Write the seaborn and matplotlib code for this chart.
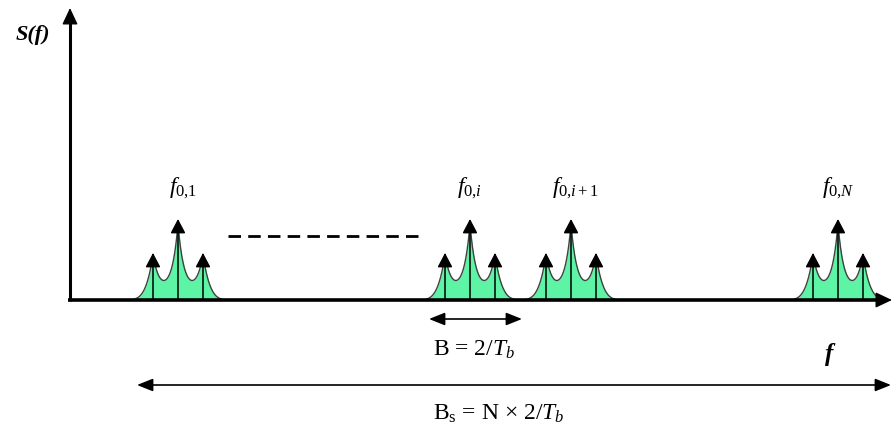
import numpy as np
import pandas as pd
import matplotlib
matplotlib.use("Agg")
import matplotlib.pyplot as plt
import seaborn as sns

sns.set_theme(style="white")
plt.rcParams['font.family'] = ['Liberation Serif', 'DejaVu Serif']
plt.rcParams['text.color'] = 'black'
plt.rcParams['mathtext.fontset'] = 'custom'
plt.rcParams['mathtext.rm'] = 'Liberation Serif'
plt.rcParams['mathtext.it'] = 'Liberation Serif:italic'
plt.rcParams['mathtext.bf'] = 'Liberation Serif:bold'

# ---- data ----
group_centers = [178, 470, 571, 838]
group_labels = [r"$f_{0{,}1}$", r"$f_{0{,}i}$", r"$f_{0{,}i+1}$", r"$f_{0{,}N}$"]
label_shift = [5, 0, 4, 0]
tone_offsets = [-25, 0, 25]
tone_heights = [47, 81, 47]          # arrow heights above baseline
fill_heights = [40, 68, 40]          # lobe peak heights of the green spectrum
pedestal = 7.5
cusp_width = 6.0

baseline = 300
fill_color = "#5ef4a6"

fig = plt.figure(figsize=(8.92, 4.32), dpi=100)
ax = fig.add_axes([0, 0, 1, 1])

# spectrum shapes
rows = []
for gi, c in enumerate(group_centers):
    x = np.linspace(c - 50, c + 50, 600)
    y = pedestal * np.exp(-((x - c) / 32.0) ** 6)
    for o, h in zip(tone_offsets, fill_heights):
        y = y + h * np.exp(-np.abs(x - (c + o)) / cusp_width)
    y = y - 1.0
    y[y < 0] = 0
    for xi, yi in zip(x, y):
        rows.append((gi, xi, baseline - yi))
df = pd.DataFrame(rows, columns=["group", "x", "y"])

for gi, sub in df.groupby("group"):
    ax.fill_between(sub["x"], baseline, sub["y"], color=fill_color, lw=0, zorder=2)
sns.lineplot(data=df, x="x", y="y", units="group", estimator=None,
             color="#404040", lw=1.0, ax=ax, legend=False, zorder=3, sort=False)
ax.set_xlim(0, 892)
ax.set_ylim(432, 0)
ax.axis('off')

# spectral line arrows
for c in group_centers:
    for o, h in zip(tone_offsets, tone_heights):
        ax.annotate("", xy=(c + o, baseline - h), xytext=(c + o, baseline),
                    arrowprops=dict(arrowstyle="-|>,head_length=0.72,head_width=0.38",
                                    mutation_scale=12, color="black", lw=1.1,
                                    shrinkA=0, shrinkB=0), zorder=4)

# labels above groups
for c, lab, s in zip(group_centers, group_labels, label_shift):
    ax.text(c + s, 188, lab, ha="center", va="center", fontsize=17, color="black")

# axes
ax.plot([70, 70], [baseline + 1, 20], color="black", lw=2.2, solid_capstyle="butt", zorder=5)
ax.annotate("", xy=(70, 8), xytext=(70, 24),
            arrowprops=dict(arrowstyle="-|>,head_length=0.85,head_width=0.4",
                            mutation_scale=12, color="black", lw=1.0, shrinkA=0, shrinkB=0))
ax.plot([68, 880], [baseline, baseline], color="black", lw=2.6, solid_capstyle="butt", zorder=5)
ax.annotate("", xy=(892, baseline), xytext=(876, baseline),
            arrowprops=dict(arrowstyle="-|>,head_length=0.85,head_width=0.4",
                            mutation_scale=12, color="black", lw=1.0, shrinkA=0, shrinkB=0),
            zorder=6)
ax.text(33, 35, "S(f)", fontsize=16, fontweight="bold", fontstyle="italic",
        ha="center", va="center", color="black", family="Liberation Serif")

# dashed continuation
ax.plot([228, 420], [236, 236], color="black", lw=2.0, dashes=(4.5, 2.6))

# bandwidth arrows
ax.annotate("", xy=(429, 319), xytext=(522, 319),
            arrowprops=dict(arrowstyle="<|-|>,head_length=0.8,head_width=0.32",
                            mutation_scale=12, color="black", lw=1.2, shrinkA=0, shrinkB=0))
ax.text(474, 350, r"B = 2/$T_b$", fontsize=17, ha="center", va="center", color="black")

ax.annotate("", xy=(137, 385), xytext=(891, 385),
            arrowprops=dict(arrowstyle="<|-|>,head_length=0.8,head_width=0.32",
                            mutation_scale=12, color="black", lw=1.2, shrinkA=0, shrinkB=0))
ax.text(499, 414, r"B$_\mathrm{s}$ = N × 2/$T_b$", fontsize=17, ha="center", va="center",
        color="black")

ax.text(829, 354, "f", fontsize=18, fontweight="bold", fontstyle="italic",
        ha="center", va="center", color="black", family="Liberation Serif")

fig.savefig("out.png", dpi=100)
